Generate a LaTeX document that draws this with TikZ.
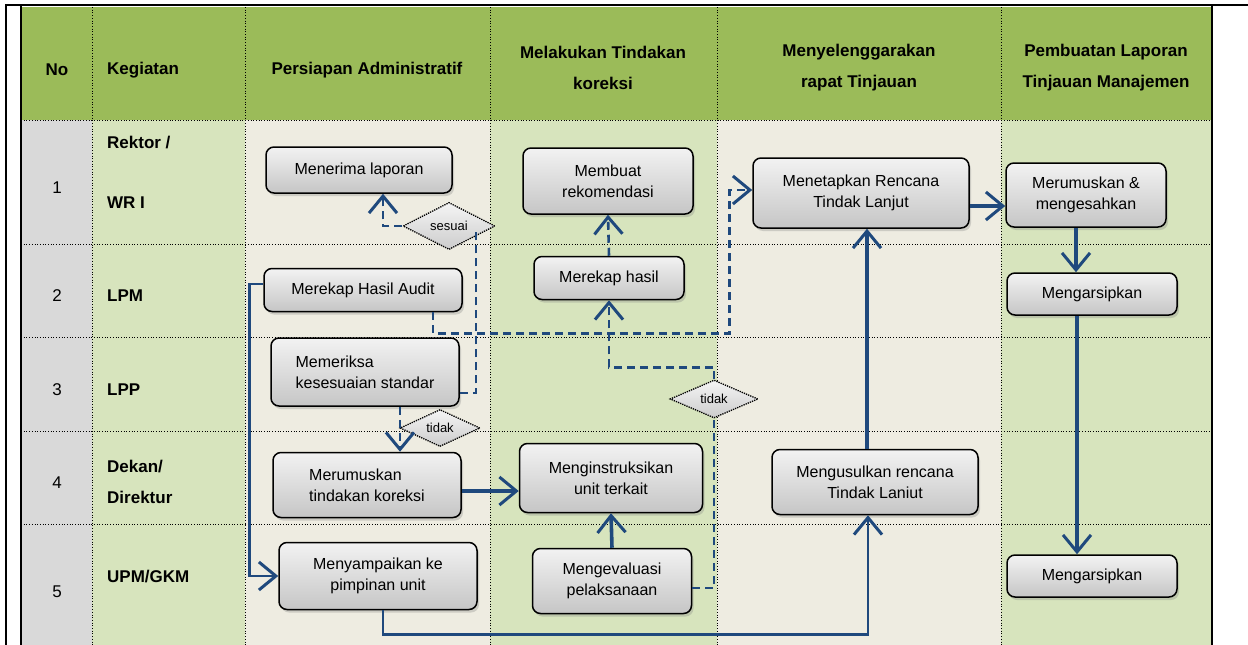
\documentclass[tikz,border=0pt]{standalone}
\usepackage{fontspec}
\setmainfont{Liberation Sans}
\usetikzlibrary{arrows.meta,shapes.geometric,shadows}
\definecolor{hdgreen}{RGB}{155,187,89}
\definecolor{lgreen}{RGB}{215,228,189}
\definecolor{beige}{RGB}{238,236,225}
\definecolor{nogray}{RGB}{217,217,217}
\definecolor{flowblue}{RGB}{31,73,125}
\tikzset{
  proc/.style={draw=black,line width=1.5pt,rounded corners=8pt,top color=gray!10,bottom color=gray!45,
    drop shadow={opacity=0.3,shadow xshift=2pt,shadow yshift=-3pt},align=center,inner sep=2pt,
    font=\fontsize{16}{21}\selectfont},
  dec/.style={diamond,draw=black,densely dotted,line width=1.3pt,top color=gray!8,bottom color=gray!40,
    inner sep=0pt,font=\fontsize{13}{15}\selectfont},
  hdr/.style={font=\fontsize{17}{31}\selectfont\bfseries,align=center,inner sep=0pt},
  rowlbl/.style={font=\fontsize{17}{31}\selectfont\bfseries,align=left,anchor=west,inner sep=0pt},
  rownum/.style={font=\fontsize{17}{20}\selectfont,inner sep=0pt},
  tip/.style={-{Straight Barb[length=17pt,width=28pt,line width=3pt]}},
  dashblue/.style={draw=flowblue,line width=2.6pt,dash pattern=on 8pt off 5pt},
  flow/.style={draw=flowblue,line width=3.6pt},
  thinflow/.style={draw=flowblue,line width=2.6pt}
}
\begin{document}
\begin{tikzpicture}[x=1pt,y=-1pt]
\useasboundingbox (0,0) rectangle (1248,645);
% lanes
\fill[hdgreen] (21,7) rectangle (1212,120);
\foreach \xa/\xb/\c in {21/92/nogray,92/245/lgreen,245/490/beige,490/717/lgreen,717/1001/beige,1001/1212/lgreen}{\fill[\c] (\xa,120) rectangle (\xb,645);}
\foreach \x in {92,245,490,717,1001}{\draw[dotted,line width=0.7pt] (\x,7)--(\x,645);}
\foreach \y in {120,244,337,431,524}{\draw[dotted,line width=0.7pt] (21,\y)--(1212,\y);}
\draw[line width=2.5pt] (5,5)--(1248,5);
\foreach \x in {6,21,1212}{\draw[line width=2pt] (\x,5)--(\x,645);}
% header
\node[hdr] (hno) at (57,70) {No};
\node[hdr,anchor=west] (hkeg) at (107,70) {Kegiatan};
\node[hdr] (hprs) at (367,70) {Persiapan Administratif};
\node[hdr] (hkor) at (603,68) {Melakukan Tindakan\\koreksi};
\node[hdr] (hrpt) at (859,68) {Menyelenggarakan\\rapat Tinjauan};
\node[hdr] (hlap) at (1106,68) {Pembuatan Laporan\\Tinjauan Manajemen};
% rows
\foreach \n/\y in {1/188,2/296,3/390,4/483,5/592}{\node[rownum] (no\n) at (57,\y) {\n};}
\foreach \t/\y [count=\i] in {{Rektor /}/143,{WR I}/203,LPM/296,LPP/390,{Dekan/\\Direktur}/482,{UPM/GKM}/577}{\node[rowlbl] (lbl\i) at (107,\y) {\t};}
% steps
\node[proc,minimum width=186pt,minimum height=46pt] (terima) at (359,170) {Menerima laporan};
\node[proc,minimum width=170pt,minimum height=66pt] (rekom) at (608,181) {Membuat\\rekomendasi};
\node[proc,minimum width=216pt,minimum height=70pt] (tetap) at (861,193) {Menetapkan Rencana\\Tindak Lanjut};
\node[proc,minimum width=160pt,minimum height=64pt] (sah) at (1086,195) {Merumuskan \&\\mengesahkan};
\node[proc,minimum width=170pt,minimum height=42pt] (arsipA) at (1092,294) {Mengarsipkan};
\node[proc,minimum width=198pt,minimum height=43pt] (audit) at (363,290) {Merekap Hasil Audit};
\node[proc,minimum width=150pt,minimum height=43pt] (rekap) at (609,278) {Merekap hasil};
\node[proc,minimum width=188pt,minimum height=68pt,align=left] (periksa) at (365,372) {Memeriksa\\kesesuaian standar};
\node[proc,minimum width=188pt,minimum height=65pt,align=left] (rumus) at (367,485) {Merumuskan\\tindakan koreksi};
\node[proc,minimum width=183pt,minimum height=69pt] (instruksi) at (611,478) {Menginstruksikan\\unit terkait};
\node[proc,minimum width=206pt,minimum height=65pt] (usul) at (875,482) {Mengusulkan rencana\\Tindak Laniut};
\node[proc,minimum width=198pt,minimum height=67pt] (sampai) at (378,576) {Menyampaikan ke\\pimpinan unit};
\node[proc,minimum width=159pt,minimum height=65pt] (evaluasi) at (612,581) {Mengevaluasi\\pelaksanaan};
\node[proc,minimum width=170pt,minimum height=42pt] (arsipB) at (1092,576) {Mengarsipkan};
% decisions
\node[dec,minimum width=92pt,minimum height=35pt] (sesuai) at (449,226) {sesuai};
\node[dec,minimum width=80pt,minimum height=30pt] (tidakA) at (440,428) {tidak};
\node[dec,minimum width=88pt,minimum height=38pt] (tidakB) at (714,399) {tidak};
% dashed links
\draw[dashblue] ([yshift=-21pt]periksa.east) -| ([xshift=27pt,yshift=-3pt]sesuai.center);
\draw[dashblue,tip] (sesuai.west) -| ([xshift=24pt]terima.south);
\draw[dashblue,tip] ([xshift=35pt]periksa.south) -- ([xshift=35pt]periksa.south |- rumus.north);
\draw[dashblue,tip] ([xshift=70pt]audit.south) -- ++(0,21) -| ([xshift=-23pt,yshift=3pt]tetap.west) -- ([yshift=3pt]tetap.west);
\draw[dashblue] ([yshift=-7pt]evaluasi.east) -| (tidakB.south);
\draw[dashblue,tip] (tidakB.north) -- ++(0,-12) -| (rekap.south);
\draw[dashblue,tip] (rekap.north) -- (rekom.south);
% solid links
\draw[thinflow,tip] ([yshift=6pt]audit.west) -- ++(-14,0) |- (sampai.west);
\draw[flow,tip] ([yshift=-6pt]rumus.east) -- ([yshift=-6pt]rumus.east -| instruksi.west);
\draw[flow,tip] (evaluasi.north) -- (instruksi.south);
\draw[thinflow,tip] ([xshift=5pt]sampai.south) -- ++(0,24) -| ([xshift=-7pt]usul.south);
\draw[flow,tip] ([xshift=-8pt]usul.north) -- ([xshift=-8pt]usul.north |- tetap.south);
\draw[flow,tip] ([yshift=-13pt]tetap.east) -- ([yshift=-13pt]tetap.east -| sah.west);
\draw[flow,tip] ([xshift=-10pt]sah.south) -- ([xshift=-10pt]sah.south |- arsipA.north);
\draw[flow,tip] ([xshift=-15pt]arsipA.south) -- ([xshift=-15pt]arsipA.south |- arsipB.north);
\end{tikzpicture}
\end{document}
